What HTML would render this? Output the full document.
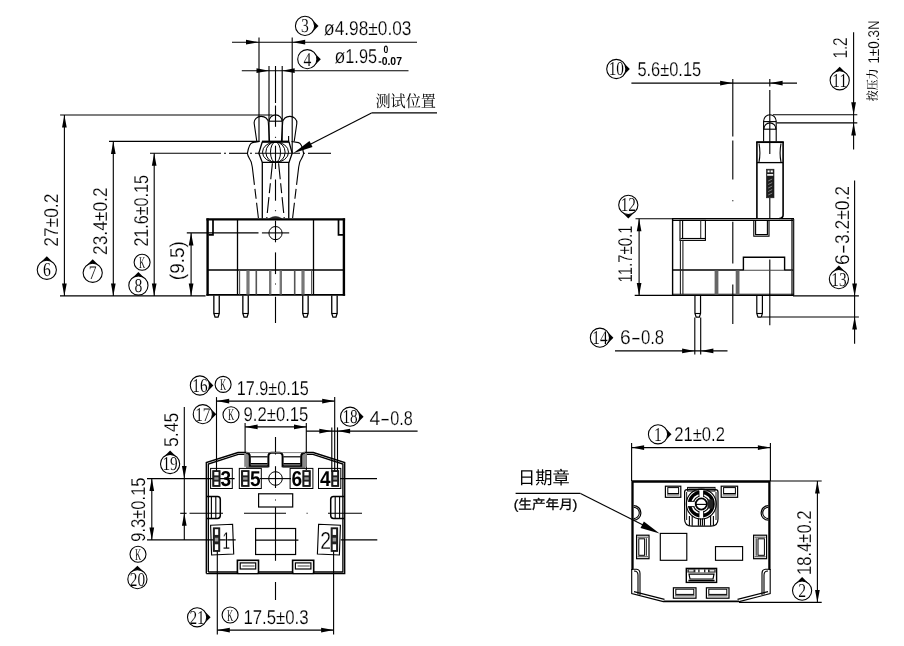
<!DOCTYPE html>
<html lang="zh">
<head>
<meta charset="utf-8">
<title>Drawing</title>
<style>
html,body{margin:0;padding:0;background:#fff;}
body{width:904px;height:646px;overflow:hidden;}
svg{display:block;}
text{white-space:pre;text-rendering:geometricPrecision;}
</style>
</head>
<body>
<svg width="904" height="646" viewBox="0 0 904 646" style="filter:grayscale(1)">
<rect x="0" y="0" width="904" height="646" fill="#fff"/>
<line x1="232" y1="42.2" x2="417" y2="42.2" stroke="#000" stroke-width="1.12"/>
<polygon points="259,42.2 246,44.55 246,39.85" fill="#000"/>
<polygon points="292.2,42.2 305.2,39.85 305.2,44.55" fill="#000"/>
<line x1="259" y1="37.6" x2="259" y2="141.5" stroke="#000" stroke-width="1.12"/>
<line x1="292.2" y1="37.6" x2="292.2" y2="153" stroke="#000" stroke-width="1.12"/>
<line x1="241.8" y1="70.7" x2="408.5" y2="70.7" stroke="#000" stroke-width="1.12"/>
<polygon points="269,70.7 256.5,73.05 256.5,68.35" fill="#000"/>
<polygon points="282.2,70.7 294.7,68.35 294.7,73.05" fill="#000"/>
<line x1="269" y1="66" x2="269" y2="121" stroke="#000" stroke-width="1.12"/>
<line x1="282.2" y1="66" x2="282.2" y2="121" stroke="#000" stroke-width="1.12"/>
<polygon points="318.5,25.9 311.83,32.65 311.83,19.15" fill="#000"/>
<circle cx="305" cy="25.9" r="9.6" fill="#fff" stroke="#000" stroke-width="1.08"/>
<text transform="translate(305 32.37) scale(0.8 1)" font-family='"Liberation Serif", serif' font-size="19.6" text-anchor="middle" fill="#000" stroke="#fff" stroke-width="0.1">3</text>
<text x="323.8" y="35.3" font-family='"Liberation Sans", sans-serif' font-size="20" fill="#000" stroke="#fff" stroke-width="0.2"><tspan textLength="10.9" lengthAdjust="spacingAndGlyphs">ø</tspan><tspan textLength="76.7" lengthAdjust="spacingAndGlyphs">4.98±0.03</tspan></text>
<polygon points="320.8,59.2 314.13,65.95 314.13,52.45" fill="#000"/>
<circle cx="307.3" cy="59.2" r="9.6" fill="#fff" stroke="#000" stroke-width="1.08"/>
<text transform="translate(307.3 65.67) scale(0.8 1)" font-family='"Liberation Serif", serif' font-size="19.6" text-anchor="middle" fill="#000" stroke="#fff" stroke-width="0.1">4</text>
<text x="334.4" y="62.5" font-family='"Liberation Sans", sans-serif' font-size="20" fill="#000" stroke="#fff" stroke-width="0.2"><tspan textLength="10.9" lengthAdjust="spacingAndGlyphs">ø</tspan><tspan textLength="31.7" lengthAdjust="spacingAndGlyphs">1.95</tspan></text>
<text x="383.6" y="53" font-family='"Liberation Sans", sans-serif' font-size="10.6" fill="#000" font-weight="bold" textLength="4.8" lengthAdjust="spacingAndGlyphs">0</text>
<text x="378.2" y="64.7" font-family='"Liberation Sans", sans-serif' font-size="11.6" fill="#000" font-weight="bold" textLength="23.8" lengthAdjust="spacingAndGlyphs">-0.07</text>
<line x1="275.5" y1="66" x2="275.5" y2="103" stroke="#000" stroke-width="1.12"/>
<line x1="275.5" y1="105.5" x2="275.5" y2="126.8" stroke="#000" stroke-width="1.12"/>
<line x1="275.5" y1="145.7" x2="275.5" y2="169" stroke="#000" stroke-width="1.12"/>
<line x1="275.5" y1="179.5" x2="275.5" y2="200.7" stroke="#000" stroke-width="1.12"/>
<line x1="275.5" y1="220.6" x2="275.5" y2="242.3" stroke="#000" stroke-width="1.12"/>
<line x1="275.5" y1="252.4" x2="275.5" y2="274.1" stroke="#000" stroke-width="1.12"/>
<line x1="275.5" y1="296.8" x2="275.5" y2="323" stroke="#000" stroke-width="1.12"/>
<line x1="275.5" y1="106.5" x2="275.5" y2="107.5" stroke="#000" stroke-width="1.12"/>
<line x1="275.5" y1="136.8" x2="275.5" y2="137.8" stroke="#000" stroke-width="1.12"/>
<line x1="275.5" y1="210.2" x2="275.5" y2="211.2" stroke="#000" stroke-width="1.12"/>
<line x1="275.5" y1="283.5" x2="275.5" y2="284.5" stroke="#000" stroke-width="1.12"/>
<text x="375.4" y="106.6" font-family='"Liberation Serif", "Noto Serif CJK SC", serif' font-size="16.4" fill="#000" textLength="60.6" lengthAdjust="spacingAndGlyphs">测试位置</text>
<line x1="371.5" y1="112.9" x2="437" y2="112.9" stroke="#000" stroke-width="1.12"/>
<line x1="371.5" y1="112.9" x2="305" y2="147" stroke="#000" stroke-width="1.12"/>
<polygon points="293.2,153.2 309.48,141.12 312.5,146.99" fill="#000"/>
<line x1="60.1" y1="115.05" x2="272.4" y2="115.05" stroke="#000" stroke-width="1.12"/>
<line x1="109" y1="141.4" x2="259.5" y2="141.4" stroke="#000" stroke-width="1.12"/>
<line x1="150" y1="153.3" x2="221" y2="153.3" stroke="#000" stroke-width="1.12"/>
<line x1="224" y1="153.3" x2="226" y2="153.3" stroke="#000" stroke-width="1.12"/>
<line x1="229" y1="153.3" x2="247" y2="153.3" stroke="#000" stroke-width="1.12"/>
<line x1="250" y1="153.3" x2="252" y2="153.3" stroke="#000" stroke-width="1.12"/>
<line x1="255" y1="153.3" x2="300" y2="153.3" stroke="#000" stroke-width="1.12"/>
<line x1="303" y1="153.3" x2="305" y2="153.3" stroke="#000" stroke-width="1.12"/>
<line x1="308" y1="153.3" x2="331" y2="153.3" stroke="#000" stroke-width="1.12"/>
<line x1="60" y1="295.9" x2="205.6" y2="295.9" stroke="#000" stroke-width="1.12"/>
<line x1="64.4" y1="115.05" x2="64.4" y2="295.9" stroke="#000" stroke-width="1.12"/>
<polygon points="64.4,115.05 66.75,127.55 62.05,127.55" fill="#000"/>
<polygon points="64.4,295.9 62.05,283.4 66.75,283.4" fill="#000"/>
<line x1="113.3" y1="141.4" x2="113.3" y2="295.9" stroke="#000" stroke-width="1.12"/>
<polygon points="113.3,141.4 115.65,153.9 110.95,153.9" fill="#000"/>
<polygon points="113.3,295.9 110.95,283.4 115.65,283.4" fill="#000"/>
<line x1="154.2" y1="153.3" x2="154.2" y2="295.9" stroke="#000" stroke-width="1.12"/>
<polygon points="154.2,153.3 156.55,165.8 151.85,165.8" fill="#000"/>
<polygon points="154.2,295.9 151.85,283.4 156.55,283.4" fill="#000"/>
<line x1="186.8" y1="232.9" x2="258.5" y2="232.9" stroke="#000" stroke-width="1.12"/>
<line x1="261.9" y1="232.9" x2="289.2" y2="232.9" stroke="#000" stroke-width="1.12"/>
<line x1="191.1" y1="232.9" x2="191.1" y2="295.9" stroke="#000" stroke-width="1.12"/>
<polygon points="191.1,232.9 193.45,245.4 188.75,245.4" fill="#000"/>
<polygon points="191.1,295.9 188.75,283.4 193.45,283.4" fill="#000"/>
<text transform="translate(57.7 246.8) rotate(-90)" font-family='"Liberation Sans", sans-serif' font-size="20" fill="#000" textLength="53.2" lengthAdjust="spacingAndGlyphs" stroke="#fff" stroke-width="0.2">27±0.2</text>
<text transform="translate(106.6 255) rotate(-90)" font-family='"Liberation Sans", sans-serif' font-size="20" fill="#000" textLength="67.6" lengthAdjust="spacingAndGlyphs" stroke="#fff" stroke-width="0.2">23.4±0.2</text>
<text transform="translate(148 246.6) rotate(-90)" font-family='"Liberation Sans", sans-serif' font-size="20" fill="#000" textLength="71.6" lengthAdjust="spacingAndGlyphs" stroke="#fff" stroke-width="0.2">21.6±0.15</text>
<text transform="translate(184.4 280.2) rotate(-90)" font-family='"Liberation Sans", sans-serif' font-size="20" fill="#000" textLength="39.1" lengthAdjust="spacingAndGlyphs" stroke="#fff" stroke-width="0.2">(9.5)</text>
<polygon points="46.8,256.3 53.55,262.97 40.05,262.97" fill="#000"/>
<circle cx="46.8" cy="269.8" r="9.6" fill="#fff" stroke="#000" stroke-width="1.08"/>
<text transform="translate(46.8 276.27) scale(0.8 1)" font-family='"Liberation Serif", serif' font-size="19.6" text-anchor="middle" fill="#000" stroke="#fff" stroke-width="0.1">6</text>
<polygon points="92.7,259.3 99.45,265.97 85.95,265.97" fill="#000"/>
<circle cx="92.7" cy="272.8" r="9.6" fill="#fff" stroke="#000" stroke-width="1.08"/>
<text transform="translate(92.7 279.27) scale(0.8 1)" font-family='"Liberation Serif", serif' font-size="19.6" text-anchor="middle" fill="#000" stroke="#fff" stroke-width="0.1">7</text>
<circle cx="142.1" cy="262.3" r="8" fill="#fff" stroke="#000" stroke-width="1.08"/>
<text transform="translate(142.1 267.91) scale(0.52 1)" font-family='"Liberation Serif", serif' font-size="16.5" text-anchor="middle" fill="#000" stroke="#fff" stroke-width="0.1">K</text>
<polygon points="138.4,272 145.15,278.67 131.65,278.67" fill="#000"/>
<circle cx="138.4" cy="285.5" r="9.6" fill="#fff" stroke="#000" stroke-width="1.08"/>
<text transform="translate(138.4 291.97) scale(0.8 1)" font-family='"Liberation Serif", serif' font-size="19.6" text-anchor="middle" fill="#000" stroke="#fff" stroke-width="0.1">8</text>
<line x1="207.6" y1="218.4" x2="207.6" y2="295.7" stroke="#000" stroke-width="2.4"/>
<line x1="343.9" y1="218.4" x2="343.9" y2="295.7" stroke="#000" stroke-width="2.4"/>
<line x1="206.4" y1="219.4" x2="345.1" y2="219.4" stroke="#000" stroke-width="2.2"/>
<line x1="206.4" y1="294.9" x2="345.1" y2="294.9" stroke="#000" stroke-width="1.9"/>
<line x1="207" y1="270.1" x2="345" y2="270.1" stroke="#000" stroke-width="1.5"/>
<line x1="237.5" y1="219" x2="237.5" y2="295" stroke="#000" stroke-width="1.3"/>
<line x1="313.5" y1="219" x2="313.5" y2="295" stroke="#000" stroke-width="1.3"/>
<path d="M213 220 L213 234.8 L208.5 234.8" fill="none" stroke="#000" stroke-width="1.7"/>
<path d="M338.5 220 L338.5 234.8 L343 234.8" fill="none" stroke="#000" stroke-width="1.7"/>
<line x1="239.6" y1="270.5" x2="239.6" y2="294.5" stroke="#555" stroke-width="1.12"/>
<line x1="248" y1="270.5" x2="248" y2="294.5" stroke="#777" stroke-width="3.2"/>
<line x1="256.3" y1="270.5" x2="256.3" y2="294.5" stroke="#555" stroke-width="1.6"/>
<line x1="270.2" y1="270.5" x2="270.2" y2="294.5" stroke="#777" stroke-width="2.4"/>
<line x1="280.8" y1="270.5" x2="280.8" y2="294.5" stroke="#777" stroke-width="2.4"/>
<line x1="294.7" y1="270.5" x2="294.7" y2="294.5" stroke="#555" stroke-width="1.6"/>
<line x1="303" y1="270.5" x2="303" y2="294.5" stroke="#777" stroke-width="3.2"/>
<line x1="311.6" y1="270.5" x2="311.6" y2="294.5" stroke="#555" stroke-width="1.12"/>
<path d="M213.85 295.5 L213.85 313.5 L215.05 317.2 L218.05 317.2 L219.25 313.5 L219.25 295.5" fill="none" stroke="#000" stroke-width="1.3"/>
<line x1="213.85" y1="313.5" x2="219.25" y2="313.5" stroke="#000" stroke-width="1.12"/>
<path d="M242.85 295.5 L242.85 313.5 L244.05 317.2 L247.05 317.2 L248.25 313.5 L248.25 295.5" fill="none" stroke="#000" stroke-width="1.3"/>
<line x1="242.85" y1="313.5" x2="248.25" y2="313.5" stroke="#000" stroke-width="1.12"/>
<path d="M302.75 295.5 L302.75 313.5 L303.95 317.2 L306.95 317.2 L308.15 313.5 L308.15 295.5" fill="none" stroke="#000" stroke-width="1.3"/>
<line x1="302.75" y1="313.5" x2="308.15" y2="313.5" stroke="#000" stroke-width="1.12"/>
<path d="M331.75 295.5 L331.75 313.5 L332.95 317.2 L335.95 317.2 L337.15 313.5 L337.15 295.5" fill="none" stroke="#000" stroke-width="1.3"/>
<line x1="331.75" y1="313.5" x2="337.15" y2="313.5" stroke="#000" stroke-width="1.12"/>
<circle cx="275.5" cy="233.1" r="6.6" fill="none" stroke="#000" stroke-width="1"/>
<line x1="262.3" y1="162.4" x2="262.3" y2="218.4" stroke="#000" stroke-width="1.3"/>
<line x1="288.75" y1="162.4" x2="288.75" y2="218.4" stroke="#000" stroke-width="1.3"/>
<path d="M262.3 141.8 L258.8 153.3 L262.3 162.4 L289 162.4 L292.2 153.3 L289 141.8" fill="none" stroke="#000" stroke-width="1.3"/>
<line x1="262" y1="141.7" x2="289.3" y2="141.7" stroke="#000" stroke-width="2.2"/>
<ellipse cx="275.5" cy="152.2" rx="13" ry="10.2" fill="none" stroke="#000" stroke-width="1"/>
<ellipse cx="275.5" cy="152.2" rx="9.6" ry="10.2" fill="none" stroke="#000" stroke-width="1"/>
<ellipse cx="275.5" cy="152.2" rx="5" ry="10.2" fill="none" stroke="#000" stroke-width="1"/>
<path d="M269 141.5 L269 121.5 A6.6 6.6 0 0 1 282.2 121.5 L282.2 141.5" fill="none" stroke="#000" stroke-width="1.12"/>
<line x1="269" y1="121.2" x2="282.2" y2="121.2" stroke="#000" stroke-width="1.12"/>
<path d="M256.8 141.5 L254.2 123.5 C253.2 114.5 268.6 113.5 268.4 123.5 L269.6 141.5" fill="none" stroke="#000" stroke-width="1.12"/>
<path d="M294.2 141.5 L296.8 123.5 C297.8 114.5 282.4 113.5 282.6 123.5 L281.4 141.5" fill="none" stroke="#000" stroke-width="1.12"/>
<line x1="288.6" y1="136" x2="288.6" y2="141.5" stroke="#000" stroke-width="1.12"/>
<path d="M259.5 141.5 L252.5 142.6 C250.5 143 248.5 147 247.4 153.3 C247.4 156 250 159 251.2 162 L252.3 167" fill="none" stroke="#000" stroke-width="1.12"/>
<path d="M291.5 141.5 L298.5 142.6 C300.5 143 302.5 147 303.6 153.3 C303.6 156 301 159 299.8 162 L298.7 167" fill="none" stroke="#000" stroke-width="1.12"/>
<line x1="252.3" y1="167" x2="258.4" y2="218" stroke="#000" stroke-width="1.12" stroke-dasharray="18 4 10 4"/>
<line x1="298.7" y1="167" x2="292.6" y2="218" stroke="#000" stroke-width="1.12" stroke-dasharray="18 4 10 4"/>
<line x1="272.4" y1="163.3" x2="266.8" y2="218" stroke="#000" stroke-width="1.12" stroke-dasharray="16 4 10 4"/>
<line x1="278.6" y1="163.3" x2="284.2" y2="218" stroke="#000" stroke-width="1.12" stroke-dasharray="16 4 10 4"/>
<path d="M269.5 218.4 Q275.5 214.6 281.5 218.4 Z" fill="#333" stroke="#000" stroke-width="0.5"/>
<polygon points="629.8,69 623.13,75.75 623.13,62.25" fill="#000"/>
<circle cx="616.3" cy="69" r="9.6" fill="#fff" stroke="#000" stroke-width="1.08"/>
<text transform="translate(616.3 75.47) scale(0.78 1)" font-family='"Liberation Serif", serif' font-size="19.6" text-anchor="middle" fill="#000" stroke="#fff" stroke-width="0.1">10</text>
<text x="637.4" y="76.4" font-family='"Liberation Sans", sans-serif' font-size="20" fill="#000" textLength="63.8" lengthAdjust="spacingAndGlyphs" stroke="#fff" stroke-width="0.2">5.6±0.15</text>
<line x1="631.4" y1="83.1" x2="797" y2="83.1" stroke="#000" stroke-width="1.12"/>
<polygon points="732.6,83.1 720.1,85.45 720.1,80.75" fill="#000"/>
<polygon points="770.1,83.1 782.6,80.75 782.6,85.45" fill="#000"/>
<line x1="732.8" y1="78.9" x2="732.8" y2="136.6" stroke="#000" stroke-width="1.12"/>
<line x1="732.8" y1="140.4" x2="732.8" y2="179.4" stroke="#000" stroke-width="1.12"/>
<line x1="732.8" y1="221.7" x2="732.8" y2="263.5" stroke="#000" stroke-width="1.12"/>
<line x1="732.8" y1="284.5" x2="732.8" y2="324" stroke="#000" stroke-width="1.12"/>
<line x1="732.8" y1="200.2" x2="732.8" y2="201.2" stroke="#000" stroke-width="1.12"/>
<line x1="769.8" y1="78.9" x2="769.8" y2="86.5" stroke="#000" stroke-width="1.12"/>
<line x1="769.8" y1="90" x2="769.8" y2="154" stroke="#000" stroke-width="1.12"/>
<line x1="769.8" y1="198" x2="769.8" y2="218" stroke="#000" stroke-width="1.12"/>
<line x1="769.8" y1="259.6" x2="769.8" y2="325.2" stroke="#000" stroke-width="1.12"/>
<line x1="773" y1="114.8" x2="857.3" y2="114.8" stroke="#000" stroke-width="1.12"/>
<line x1="776.9" y1="122.9" x2="857.3" y2="122.9" stroke="#000" stroke-width="1.12"/>
<line x1="853.6" y1="32.3" x2="853.6" y2="149.4" stroke="#000" stroke-width="1.12"/>
<polygon points="853.6,114.8 851.25,102.3 855.95,102.3" fill="#000"/>
<polygon points="853.6,122.9 855.95,135.4 851.25,135.4" fill="#000"/>
<text transform="translate(846.6 58.6) rotate(-90)" font-family='"Liberation Sans", sans-serif' font-size="20" fill="#000" textLength="21.2" lengthAdjust="spacingAndGlyphs" stroke="#fff" stroke-width="0.2">1.2</text>
<polygon points="839.7,66.8 846.45,73.47 832.95,73.47" fill="#000"/>
<circle cx="839.7" cy="80.3" r="9.6" fill="#fff" stroke="#000" stroke-width="1.08"/>
<text transform="translate(839.7 86.77) scale(0.78 1)" font-family='"Liberation Serif", serif' font-size="19.6" text-anchor="middle" fill="#000" stroke="#fff" stroke-width="0.1">11</text>
<text transform="translate(877.4 101.2) rotate(-90)" fill="#000"><tspan x="0" y="0" font-family='"Liberation Serif", "Noto Serif CJK SC", serif' font-size="12.8" font-weight="500" textLength="32.6" lengthAdjust="spacingAndGlyphs">按压力</tspan> <tspan x="37.6" y="1.2" font-family='"Liberation Sans", sans-serif' font-size="15.6" textLength="43.2" lengthAdjust="spacingAndGlyphs" stroke="#fff" stroke-width="0.1">1±0.3N</tspan></text>
<line x1="793" y1="295.9" x2="858.9" y2="295.9" stroke="#000" stroke-width="1.12"/>
<line x1="762" y1="317" x2="858.9" y2="317" stroke="#000" stroke-width="1.12"/>
<line x1="854.6" y1="180.4" x2="854.6" y2="343.8" stroke="#000" stroke-width="1.12"/>
<polygon points="854.6,295.9 852.25,283.4 856.95,283.4" fill="#000"/>
<polygon points="854.6,317 856.95,329.5 852.25,329.5" fill="#000"/>
<text transform="translate(848.8 265) rotate(-90)" font-family='"Liberation Sans", sans-serif' font-size="20" fill="#000" stroke="#fff" stroke-width="0.2"><tspan textLength="10.7" lengthAdjust="spacingAndGlyphs">6</tspan><tspan textLength="10.2" lengthAdjust="spacingAndGlyphs">-</tspan><tspan textLength="58.1" lengthAdjust="spacingAndGlyphs">3.2±0.2</tspan></text>
<polygon points="838.9,265.6 845.65,272.27 832.15,272.27" fill="#000"/>
<circle cx="838.9" cy="279.1" r="9.6" fill="#fff" stroke="#000" stroke-width="1.08"/>
<text transform="translate(838.9 285.57) scale(0.78 1)" font-family='"Liberation Serif", serif' font-size="19.6" text-anchor="middle" fill="#000" stroke="#fff" stroke-width="0.1">13</text>
<line x1="635.5" y1="218.8" x2="672.5" y2="218.8" stroke="#000" stroke-width="1.12"/>
<line x1="634.7" y1="295.4" x2="672.5" y2="295.4" stroke="#000" stroke-width="1.12"/>
<line x1="639.1" y1="218.8" x2="639.1" y2="295.4" stroke="#000" stroke-width="1.12"/>
<polygon points="639.1,218.8 641.45,231.3 636.75,231.3" fill="#000"/>
<polygon points="639.1,295.4 636.75,282.9 641.45,282.9" fill="#000"/>
<text transform="translate(632 282.4) rotate(-90)" font-family='"Liberation Sans", sans-serif' font-size="20" fill="#000" textLength="57" lengthAdjust="spacingAndGlyphs" stroke="#fff" stroke-width="0.2">11.7±0.1</text>
<polygon points="628.3,218.4 621.55,211.73 635.05,211.73" fill="#000"/>
<circle cx="628.3" cy="204.9" r="9.6" fill="#fff" stroke="#000" stroke-width="1.08"/>
<text transform="translate(628.3 211.37) scale(0.78 1)" font-family='"Liberation Serif", serif' font-size="19.6" text-anchor="middle" fill="#000" stroke="#fff" stroke-width="0.1">12</text>
<polygon points="613.4,337.7 606.73,344.45 606.73,330.95" fill="#000"/>
<circle cx="599.9" cy="337.7" r="9.6" fill="#fff" stroke="#000" stroke-width="1.08"/>
<text transform="translate(599.9 344.17) scale(0.78 1)" font-family='"Liberation Serif", serif' font-size="19.6" text-anchor="middle" fill="#000" stroke="#fff" stroke-width="0.1">14</text>
<text x="620" y="344" font-family='"Liberation Sans", sans-serif' font-size="20" fill="#000" stroke="#fff" stroke-width="0.2"><tspan textLength="10.7" lengthAdjust="spacingAndGlyphs">6</tspan><tspan textLength="10.2" lengthAdjust="spacingAndGlyphs">-</tspan><tspan textLength="23.3" lengthAdjust="spacingAndGlyphs">0.8</tspan></text>
<line x1="615" y1="350.9" x2="727.5" y2="350.9" stroke="#000" stroke-width="1.12"/>
<polygon points="694.6,350.9 682.1,353.25 682.1,348.55" fill="#000"/>
<polygon points="700.9,350.9 713.4,348.55 713.4,353.25" fill="#000"/>
<line x1="694.8" y1="317.4" x2="694.8" y2="354.6" stroke="#000" stroke-width="1.12"/>
<line x1="700.7" y1="317.4" x2="700.7" y2="354.6" stroke="#000" stroke-width="1.12"/>
<line x1="672.6" y1="219" x2="672.6" y2="295.6" stroke="#000" stroke-width="1.4"/>
<line x1="792" y1="219" x2="792" y2="295.6" stroke="#000" stroke-width="1.2"/>
<line x1="793.7" y1="219" x2="793.7" y2="295.2" stroke="#000" stroke-width="1.12"/>
<line x1="672" y1="218.7" x2="794" y2="218.7" stroke="#000" stroke-width="1.2"/>
<line x1="672.5" y1="220.4" x2="793" y2="220.4" stroke="#000" stroke-width="1.2"/>
<line x1="672" y1="294.2" x2="793.8" y2="294.2" stroke="#000" stroke-width="1.1"/>
<line x1="672" y1="295.5" x2="793.8" y2="295.5" stroke="#000" stroke-width="1.2"/>
<line x1="672.5" y1="270.1" x2="743.4" y2="270.1" stroke="#000" stroke-width="1.5"/>
<line x1="784.6" y1="270.1" x2="792.8" y2="270.1" stroke="#000" stroke-width="1.5"/>
<line x1="737" y1="270.3" x2="792" y2="270.3" stroke="#444" stroke-width="1.12"/>
<rect x="680" y="220.4" width="25.4" height="20" fill="none" stroke="#000" stroke-width="1.1"/>
<line x1="682.6" y1="220.4" x2="682.6" y2="239" stroke="#000" stroke-width="1.12"/>
<line x1="700.7" y1="220.4" x2="700.7" y2="239" stroke="#333" stroke-width="1.12"/>
<line x1="680.5" y1="238.5" x2="705" y2="238.5" stroke="#000" stroke-width="1.12"/>
<line x1="680.4" y1="240" x2="680.4" y2="294.5" stroke="#222" stroke-width="1.12"/>
<line x1="682.9" y1="240" x2="682.9" y2="294.5" stroke="#222" stroke-width="1.12"/>
<path d="M753.8 220 L753.8 236.2 L769 236.2 L769 220" fill="none" stroke="#000" stroke-width="1.12"/>
<path d="M755.6 220 L755.6 234.6 L767.4 234.6 L767.4 220" fill="none" stroke="#000" stroke-width="1.12"/>
<path d="M743.4 270.2 L743.4 257.3 L784.6 257.3 L784.6 270.2" fill="none" stroke="#000" stroke-width="1.4"/>
<line x1="716.5" y1="270.5" x2="716.5" y2="294.5" stroke="#666" stroke-width="3.8"/>
<line x1="737.6" y1="270.5" x2="737.6" y2="294.5" stroke="#666" stroke-width="3.8"/>
<path d="M694.95 295.5 L694.95 313.5 L696.15 317.2 L699.35 317.2 L700.55 313.5 L700.55 295.5" fill="none" stroke="#000" stroke-width="1.2"/>
<line x1="694.95" y1="313.5" x2="700.55" y2="313.5" stroke="#000" stroke-width="1.12"/>
<path d="M756.8 295.5 L756.8 313.5 L758 317.2 L761.2 317.2 L762.4 313.5 L762.4 295.5" fill="none" stroke="#000" stroke-width="1.2"/>
<line x1="756.8" y1="313.5" x2="762.4" y2="313.5" stroke="#000" stroke-width="1.12"/>
<path d="M756.9 218.6 L756.9 142 M783.1 142 L783.1 215 Q783.1 218.2 779.5 218.4" fill="none" stroke="#000" stroke-width="1.6"/>
<line x1="756.2" y1="142.1" x2="783.8" y2="142.1" stroke="#000" stroke-width="1.9"/>
<line x1="757" y1="162.6" x2="783" y2="162.6" stroke="#000" stroke-width="1.3"/>
<path d="M759 143.5 Q760.8 153 759 162" fill="none" stroke="#000" stroke-width="1.12"/>
<path d="M781 143.5 Q779.2 153 781 162" fill="none" stroke="#000" stroke-width="1.12"/>
<path d="M763.6 141.5 L763.6 121.2 A6.3 6.4 0 0 1 776.2 121.2 L776.2 141.5" fill="none" stroke="#000" stroke-width="1.1"/>
<line x1="763.6" y1="121.6" x2="776.2" y2="121.6" stroke="#000" stroke-width="1.12"/>
<path d="M763.9 129.2 A6 6.3 0 0 1 775.9 129.2" fill="none" stroke="#000" stroke-width="1.1"/>
<line x1="763.6" y1="129.2" x2="776.2" y2="129.2" stroke="#000" stroke-width="1.12"/>
<rect x="766.4" y="169.2" width="7.6" height="28.6" fill="#1c1c1c" stroke="#1c1c1c" stroke-width="0.6"/>
<rect x="767.6" y="170.4" width="2" height="2" fill="#fff" stroke="none" stroke-width="0"/>
<rect x="770.6" y="170.4" width="2.2" height="2" fill="#fff" stroke="none" stroke-width="0"/>
<rect x="767.2" y="174" width="6" height="1.8" fill="#eee" stroke="none" stroke-width="0"/>
<line x1="768.2" y1="181" x2="772.2" y2="179" stroke="#aaa" stroke-width="0.7"/>
<line x1="768.2" y1="184.5" x2="772.2" y2="182.5" stroke="#aaa" stroke-width="0.7"/>
<line x1="768.2" y1="188" x2="772.2" y2="186" stroke="#aaa" stroke-width="0.7"/>
<line x1="768.2" y1="191.5" x2="772.2" y2="189.5" stroke="#aaa" stroke-width="0.7"/>
<line x1="768.2" y1="195" x2="772.2" y2="193" stroke="#aaa" stroke-width="0.7"/>
<polygon points="213.4,385.5 206.73,392.25 206.73,378.75" fill="#000"/>
<circle cx="199.9" cy="385.5" r="9.6" fill="#fff" stroke="#000" stroke-width="1.08"/>
<text transform="translate(199.9 391.97) scale(0.78 1)" font-family='"Liberation Serif", serif' font-size="19.6" text-anchor="middle" fill="#000" stroke="#fff" stroke-width="0.1">16</text>
<circle cx="223.1" cy="384.4" r="8" fill="#fff" stroke="#000" stroke-width="1.08"/>
<text transform="translate(223.1 390.01) scale(0.52 1)" font-family='"Liberation Serif", serif' font-size="16.5" text-anchor="middle" fill="#000" stroke="#fff" stroke-width="0.1">K</text>
<text x="236.8" y="394.8" font-family='"Liberation Sans", sans-serif' font-size="20" fill="#000" textLength="72" lengthAdjust="spacingAndGlyphs" stroke="#fff" stroke-width="0.2">17.9±0.15</text>
<line x1="216.7" y1="401.1" x2="334.7" y2="401.1" stroke="#000" stroke-width="1.12"/>
<polygon points="216.7,401.1 229.2,398.75 229.2,403.45" fill="#000"/>
<polygon points="334.7,401.1 322.2,403.45 322.2,398.75" fill="#000"/>
<line x1="216.5" y1="397.1" x2="216.5" y2="472.3" stroke="#000" stroke-width="1.12"/>
<line x1="334.7" y1="397.1" x2="334.7" y2="472" stroke="#000" stroke-width="1.12"/>
<polygon points="216.3,414.2 209.63,420.95 209.63,407.45" fill="#000"/>
<circle cx="202.8" cy="414.2" r="9.6" fill="#fff" stroke="#000" stroke-width="1.08"/>
<text transform="translate(202.8 420.67) scale(0.78 1)" font-family='"Liberation Serif", serif' font-size="19.6" text-anchor="middle" fill="#000" stroke="#fff" stroke-width="0.1">17</text>
<circle cx="231" cy="414.7" r="8" fill="#fff" stroke="#000" stroke-width="1.08"/>
<text transform="translate(231 420.31) scale(0.52 1)" font-family='"Liberation Serif", serif' font-size="16.5" text-anchor="middle" fill="#000" stroke="#fff" stroke-width="0.1">K</text>
<text x="243.6" y="420.7" font-family='"Liberation Sans", sans-serif' font-size="20" fill="#000" textLength="64.8" lengthAdjust="spacingAndGlyphs" stroke="#fff" stroke-width="0.2">9.2±0.15</text>
<line x1="245.1" y1="426.9" x2="306.5" y2="426.9" stroke="#000" stroke-width="1.12"/>
<polygon points="245.1,426.9 257.6,424.55 257.6,429.25" fill="#000"/>
<polygon points="306.5,426.9 294,429.25 294,424.55" fill="#000"/>
<line x1="245.1" y1="423.1" x2="245.1" y2="453" stroke="#000" stroke-width="1.12"/>
<line x1="306.3" y1="423.1" x2="306.3" y2="470" stroke="#000" stroke-width="1.12"/>
<polygon points="363.6,416.7 356.93,423.45 356.93,409.95" fill="#000"/>
<circle cx="350.1" cy="416.7" r="9.6" fill="#fff" stroke="#000" stroke-width="1.08"/>
<text transform="translate(350.1 423.17) scale(0.78 1)" font-family='"Liberation Serif", serif' font-size="19.6" text-anchor="middle" fill="#000" stroke="#fff" stroke-width="0.1">18</text>
<text x="369.4" y="425.2" font-family='"Liberation Sans", sans-serif' font-size="20" fill="#000" stroke="#fff" stroke-width="0.2"><tspan textLength="10.7" lengthAdjust="spacingAndGlyphs">4</tspan><tspan textLength="10.2" lengthAdjust="spacingAndGlyphs">-</tspan><tspan textLength="22.5" lengthAdjust="spacingAndGlyphs">0.8</tspan></text>
<line x1="306.3" y1="431.1" x2="417.6" y2="431.1" stroke="#000" stroke-width="1.12"/>
<polygon points="331.8,431.1 319.3,433.45 319.3,428.75" fill="#000"/>
<polygon points="337.6,431.1 350.1,428.75 350.1,433.45" fill="#000"/>
<line x1="331.8" y1="427.4" x2="331.8" y2="472" stroke="#000" stroke-width="1.12"/>
<line x1="337.5" y1="427.4" x2="337.5" y2="472" stroke="#000" stroke-width="1.12"/>
<line x1="147" y1="478.6" x2="234.6" y2="478.6" stroke="#000" stroke-width="1.12"/>
<line x1="259.7" y1="478.6" x2="291" y2="478.6" stroke="#000" stroke-width="1.12"/>
<line x1="340" y1="478.6" x2="377" y2="478.6" stroke="#000" stroke-width="1.12"/>
<line x1="147" y1="539.9" x2="235.7" y2="539.9" stroke="#000" stroke-width="1.12"/>
<line x1="340.8" y1="539.9" x2="377.3" y2="539.9" stroke="#000" stroke-width="1.12"/>
<line x1="184.3" y1="407" x2="184.3" y2="539.9" stroke="#000" stroke-width="1.12"/>
<polygon points="184.3,478.6 181.95,466.1 186.65,466.1" fill="#000"/>
<polygon points="184.3,513.3 186.65,525.8 181.95,525.8" fill="#000"/>
<line x1="180.2" y1="513.3" x2="186.6" y2="513.3" stroke="#000" stroke-width="1.12"/>
<line x1="189.5" y1="513.3" x2="223" y2="513.3" stroke="#000" stroke-width="1.12"/>
<line x1="244" y1="513.3" x2="286" y2="513.3" stroke="#000" stroke-width="1.12"/>
<line x1="306.6" y1="513.3" x2="307.6" y2="513.3" stroke="#000" stroke-width="1.12"/>
<line x1="328" y1="513.3" x2="362" y2="513.3" stroke="#000" stroke-width="1.12"/>
<line x1="151.8" y1="478.6" x2="151.8" y2="539.9" stroke="#000" stroke-width="1.12"/>
<polygon points="151.8,478.6 154.15,491.1 149.45,491.1" fill="#000"/>
<polygon points="151.8,539.9 149.45,527.4 154.15,527.4" fill="#000"/>
<text transform="translate(177.8 447) rotate(-90)" font-family='"Liberation Sans", sans-serif' font-size="20" fill="#000" textLength="34.4" lengthAdjust="spacingAndGlyphs" stroke="#fff" stroke-width="0.2">5.45</text>
<polygon points="170.1,450.5 176.85,457.17 163.35,457.17" fill="#000"/>
<circle cx="170.1" cy="464" r="9.6" fill="#fff" stroke="#000" stroke-width="1.08"/>
<text transform="translate(170.1 470.47) scale(0.78 1)" font-family='"Liberation Serif", serif' font-size="19.6" text-anchor="middle" fill="#000" stroke="#fff" stroke-width="0.1">19</text>
<text transform="translate(145 541.8) rotate(-90)" font-family='"Liberation Sans", sans-serif' font-size="20" fill="#000" textLength="64.4" lengthAdjust="spacingAndGlyphs" stroke="#fff" stroke-width="0.2">9.3±0.15</text>
<circle cx="138" cy="554.3" r="8" fill="#fff" stroke="#000" stroke-width="1.08"/>
<text transform="translate(138 559.91) scale(0.52 1)" font-family='"Liberation Serif", serif' font-size="16.5" text-anchor="middle" fill="#000" stroke="#fff" stroke-width="0.1">K</text>
<polygon points="137.4,565.7 144.15,572.37 130.65,572.37" fill="#000"/>
<circle cx="137.4" cy="579.2" r="9.6" fill="#fff" stroke="#000" stroke-width="1.08"/>
<text transform="translate(137.4 585.67) scale(0.78 1)" font-family='"Liberation Serif", serif' font-size="19.6" text-anchor="middle" fill="#000" stroke="#fff" stroke-width="0.1">20</text>
<polygon points="210.6,617.3 203.93,624.05 203.93,610.55" fill="#000"/>
<circle cx="197.1" cy="617.3" r="9.6" fill="#fff" stroke="#000" stroke-width="1.08"/>
<text transform="translate(197.1 623.77) scale(0.78 1)" font-family='"Liberation Serif", serif' font-size="19.6" text-anchor="middle" fill="#000" stroke="#fff" stroke-width="0.1">21</text>
<circle cx="230.1" cy="615" r="8" fill="#fff" stroke="#000" stroke-width="1.08"/>
<text transform="translate(230.1 620.61) scale(0.52 1)" font-family='"Liberation Serif", serif' font-size="16.5" text-anchor="middle" fill="#000" stroke="#fff" stroke-width="0.1">K</text>
<text x="243.4" y="624.2" font-family='"Liberation Sans", sans-serif' font-size="20" fill="#000" textLength="65.2" lengthAdjust="spacingAndGlyphs" stroke="#fff" stroke-width="0.2">17.5±0.3</text>
<line x1="217.3" y1="630.1" x2="333.6" y2="630.1" stroke="#000" stroke-width="1.12"/>
<polygon points="217.3,630.1 229.8,627.75 229.8,632.45" fill="#000"/>
<polygon points="333.6,630.1 321.1,632.45 321.1,627.75" fill="#000"/>
<line x1="217.3" y1="549" x2="217.3" y2="634.5" stroke="#000" stroke-width="1.12"/>
<line x1="333.6" y1="549" x2="333.6" y2="634.5" stroke="#000" stroke-width="1.12"/>
<line x1="275.5" y1="437" x2="275.5" y2="454.5" stroke="#000" stroke-width="1.12"/>
<line x1="275.5" y1="466.2" x2="275.5" y2="488" stroke="#000" stroke-width="1.12"/>
<line x1="275.5" y1="507.2" x2="275.5" y2="560.8" stroke="#000" stroke-width="1.12"/>
<line x1="275.5" y1="582" x2="275.5" y2="600" stroke="#000" stroke-width="1.12"/>
<line x1="275.5" y1="499.5" x2="275.5" y2="500.5" stroke="#000" stroke-width="1.12"/>
<path d="M206.3 573.6 L206.3 462.6 L238 452.5 L246 452.5" fill="none" stroke="#000" stroke-width="1.35"/>
<path d="M305 452.5 L313.3 452.5 L344.7 462.6 L344.7 573.6 L206.3 573.6" fill="none" stroke="#000" stroke-width="1.35"/>
<path d="M208.3 572 L208.3 464 L238.3 454.3 L246 454.3" fill="none" stroke="#000" stroke-width="1.35"/>
<path d="M305 454.3 L313 454.3 L342.9 464 L342.9 572 L208.3 572" fill="none" stroke="#000" stroke-width="1.35"/>
<rect x="244.2" y="453" width="5.4" height="13.8" fill="#8a8a8a" stroke="none" stroke-width="0"/>
<rect x="301.4" y="453" width="5.4" height="13.8" fill="#8a8a8a" stroke="none" stroke-width="0"/>
<path d="M246 452.8 Q249.8 452.8 249.8 456.5 L249.8 466.2 L268.4 466.2 L268.4 456.5 Q268.4 452.8 271.5 452.8 L279.5 452.8 Q282.6 452.8 282.6 456.5 L282.6 466.2 L301.2 466.2 L301.2 456.5 Q301.2 452.8 305 452.8" fill="none" stroke="#000" stroke-width="2"/>
<line x1="250.6" y1="456.8" x2="267.6" y2="456.8" stroke="#000" stroke-width="1.2"/>
<line x1="250.6" y1="463.8" x2="267.6" y2="463.8" stroke="#000" stroke-width="1.6"/>
<line x1="283.4" y1="456.8" x2="300.4" y2="456.8" stroke="#000" stroke-width="1.2"/>
<line x1="283.4" y1="463.8" x2="300.4" y2="463.8" stroke="#000" stroke-width="1.6"/>
<line x1="246" y1="452.6" x2="305" y2="452.6" stroke="#777" stroke-width="0.9"/>
<line x1="246" y1="467.2" x2="268.5" y2="467.2" stroke="#555" stroke-width="1.12"/>
<line x1="282.5" y1="467.2" x2="305" y2="467.2" stroke="#555" stroke-width="1.12"/>
<rect x="210.6" y="468.4" width="21.7" height="20.1" fill="none" stroke="#000" stroke-width="1"/>
<rect x="212.8" y="470.7" width="7.2" height="15.6" fill="#222" stroke="#111" stroke-width="1"/>
<rect x="214.3" y="472" width="4.2" height="3.38" fill="#fff" stroke="none" stroke-width="0"/>
<rect x="214.3" y="477.25" width="4.2" height="2.5" fill="#999" stroke="none" stroke-width="0"/>
<rect x="214.3" y="481.62" width="4.2" height="3.38" fill="#fff" stroke="none" stroke-width="0"/>
<text x="220.5" y="486.2" font-family='"Liberation Sans", sans-serif' font-size="21.5" fill="#000" font-weight="bold" textLength="10.6" lengthAdjust="spacingAndGlyphs">3</text>
<rect x="239.3" y="468.4" width="22" height="20.1" fill="none" stroke="#000" stroke-width="1"/>
<rect x="241.6" y="470.7" width="7.4" height="15.6" fill="#222" stroke="#111" stroke-width="1"/>
<rect x="243.1" y="472" width="4.4" height="3.38" fill="#fff" stroke="none" stroke-width="0"/>
<rect x="243.1" y="477.25" width="4.4" height="2.5" fill="#999" stroke="none" stroke-width="0"/>
<rect x="243.1" y="481.62" width="4.4" height="3.38" fill="#fff" stroke="none" stroke-width="0"/>
<text x="249.9" y="486.2" font-family='"Liberation Sans", sans-serif' font-size="21.5" fill="#000" font-weight="bold" textLength="10.6" lengthAdjust="spacingAndGlyphs">5</text>
<rect x="290.1" y="468.4" width="22.8" height="20.1" fill="none" stroke="#000" stroke-width="1"/>
<rect x="302.9" y="470.7" width="7.3" height="15.6" fill="#222" stroke="#111" stroke-width="1"/>
<rect x="304.4" y="472" width="4.3" height="3.38" fill="#fff" stroke="none" stroke-width="0"/>
<rect x="304.4" y="477.25" width="4.3" height="2.5" fill="#999" stroke="none" stroke-width="0"/>
<rect x="304.4" y="481.62" width="4.3" height="3.38" fill="#fff" stroke="none" stroke-width="0"/>
<text x="291.5" y="486.2" font-family='"Liberation Sans", sans-serif' font-size="21.5" fill="#000" font-weight="bold" textLength="10.6" lengthAdjust="spacingAndGlyphs">6</text>
<rect x="318.5" y="468.4" width="22.3" height="20.1" fill="none" stroke="#000" stroke-width="1"/>
<rect x="331.8" y="470.7" width="6.8" height="15.6" fill="#222" stroke="#111" stroke-width="1"/>
<rect x="333.3" y="472" width="3.8" height="3.38" fill="#fff" stroke="none" stroke-width="0"/>
<rect x="333.3" y="477.25" width="3.8" height="2.5" fill="#999" stroke="none" stroke-width="0"/>
<rect x="333.3" y="481.62" width="3.8" height="3.38" fill="#fff" stroke="none" stroke-width="0"/>
<text x="319.9" y="486.2" font-family='"Liberation Sans", sans-serif' font-size="21.5" fill="#000" font-weight="bold" textLength="10.6" lengthAdjust="spacingAndGlyphs">4</text>
<circle cx="275.5" cy="478.5" r="6.8" fill="none" stroke="#000" stroke-width="1"/>
<rect x="258.6" y="493.8" width="34.1" height="13.2" fill="none" stroke="#000" stroke-width="1.2"/>
<rect x="255.6" y="528.5" width="40" height="26" fill="none" stroke="#000" stroke-width="1.2"/>
<line x1="255.5" y1="540.1" x2="298.4" y2="540.1" stroke="#000" stroke-width="1.12"/>
<path d="M207 496.6 L217.5 496.6 Q220.3 496.6 220.3 499.5 L220.3 515.5 Q220.3 518.4 217.5 518.4 L207 518.4" fill="none" stroke="#000" stroke-width="1.5"/>
<line x1="211.4" y1="497" x2="211.4" y2="518" stroke="#000" stroke-width="1.12"/>
<line x1="215.8" y1="497" x2="215.8" y2="518" stroke="#000" stroke-width="1.12"/>
<path d="M344 496.6 L333.5 496.6 Q330.7 496.6 330.7 499.5 L330.7 515.5 Q330.7 518.4 333.5 518.4 L344 518.4" fill="none" stroke="#000" stroke-width="1.5"/>
<line x1="339.6" y1="497" x2="339.6" y2="518" stroke="#000" stroke-width="1.12"/>
<line x1="335.2" y1="497" x2="335.2" y2="518" stroke="#000" stroke-width="1.12"/>
<path d="M210.6 525.3 L232.6 524.3 L233.7 554 L211.6 555 Z" fill="none" stroke="#000" stroke-width="1.12"/>
<rect x="213.4" y="527.9" width="6.3" height="23.4" fill="#222" stroke="#111" stroke-width="1"/>
<rect x="214.9" y="529.2" width="3.3" height="5.72" fill="#fff" stroke="none" stroke-width="0"/>
<rect x="214.9" y="537.73" width="3.3" height="3.74" fill="#999" stroke="none" stroke-width="0"/>
<rect x="214.9" y="544.28" width="3.3" height="5.72" fill="#fff" stroke="none" stroke-width="0"/>
<text x="222.6" y="548.6" font-family='"Liberation Sans", sans-serif' font-size="24.5" fill="#000" textLength="7.5" lengthAdjust="spacingAndGlyphs" stroke="#fff" stroke-width="0.3">1</text>
<path d="M318.6 524.3 L340.4 525.3 L339.4 555 L317.4 554 Z" fill="none" stroke="#000" stroke-width="1.12"/>
<rect x="331.2" y="527.9" width="6.4" height="23.4" fill="#222" stroke="#111" stroke-width="1"/>
<rect x="332.7" y="529.2" width="3.4" height="5.72" fill="#fff" stroke="none" stroke-width="0"/>
<rect x="332.7" y="537.73" width="3.4" height="3.74" fill="#999" stroke="none" stroke-width="0"/>
<rect x="332.7" y="544.28" width="3.4" height="5.72" fill="#fff" stroke="none" stroke-width="0"/>
<text x="320.2" y="548.6" font-family='"Liberation Sans", sans-serif' font-size="24.5" fill="#000" textLength="10.8" lengthAdjust="spacingAndGlyphs" stroke="#fff" stroke-width="0.3">2</text>
<rect x="237.4" y="560.3" width="21.1" height="12.7" fill="#fff" stroke="#000" stroke-width="1.6"/>
<rect x="240.2" y="562.9" width="15.5" height="6.1" fill="none" stroke="#000" stroke-width="1.2"/>
<line x1="242.4" y1="566" x2="254.5" y2="566" stroke="#555" stroke-width="1.12"/>
<line x1="238.4" y1="572.8" x2="257.5" y2="572.8" stroke="#fff" stroke-width="1.6"/>
<line x1="237.4" y1="573.6" x2="258.5" y2="573.6" stroke="#000" stroke-width="1.12"/>
<rect x="292.6" y="560.3" width="21.1" height="12.7" fill="#fff" stroke="#000" stroke-width="1.6"/>
<rect x="295.4" y="562.9" width="15.5" height="6.1" fill="none" stroke="#000" stroke-width="1.2"/>
<line x1="297.6" y1="566" x2="309.7" y2="566" stroke="#555" stroke-width="1.12"/>
<line x1="293.6" y1="572.8" x2="312.7" y2="572.8" stroke="#fff" stroke-width="1.6"/>
<line x1="292.6" y1="573.6" x2="313.7" y2="573.6" stroke="#000" stroke-width="1.12"/>
<text x="518" y="483.9" font-family='"Liberation Sans", "Noto Sans CJK SC", sans-serif' font-size="17.8" fill="#000" textLength="51.8" lengthAdjust="spacingAndGlyphs">日期章</text>
<text x="513.8" y="509" font-family='"Liberation Sans", "Noto Sans CJK SC", sans-serif' font-size="13.2" fill="#000" textLength="63.5" lengthAdjust="spacingAndGlyphs" stroke="#000" stroke-width="0.3">(生产年月)</text>
<line x1="515.6" y1="493.4" x2="580.5" y2="493.4" stroke="#000" stroke-width="1.12"/>
<line x1="580.5" y1="493.4" x2="648" y2="527.6" stroke="#000" stroke-width="1.12"/>
<polygon points="659.6,533.6 640.53,528.11 643.86,521.51" fill="#000"/>
<polygon points="671.5,434.3 664.83,441.05 664.83,427.55" fill="#000"/>
<circle cx="658" cy="434.3" r="9.6" fill="#fff" stroke="#000" stroke-width="1.08"/>
<text transform="translate(658 440.77) scale(0.8 1)" font-family='"Liberation Serif", serif' font-size="19.6" text-anchor="middle" fill="#000" stroke="#fff" stroke-width="0.1">1</text>
<text x="674.2" y="441.2" font-family='"Liberation Sans", sans-serif' font-size="20" fill="#000" textLength="50.8" lengthAdjust="spacingAndGlyphs" stroke="#fff" stroke-width="0.2">21±0.2</text>
<line x1="631.6" y1="447.6" x2="770.4" y2="447.6" stroke="#000" stroke-width="1.12"/>
<polygon points="631.6,447.6 644.1,445.25 644.1,449.95" fill="#000"/>
<polygon points="770.4,447.6 757.9,449.95 757.9,445.25" fill="#000"/>
<line x1="631.6" y1="443" x2="631.6" y2="481" stroke="#000" stroke-width="1.12"/>
<line x1="770.4" y1="443" x2="770.4" y2="481" stroke="#000" stroke-width="1.12"/>
<line x1="770" y1="481" x2="821.7" y2="481" stroke="#000" stroke-width="1.12"/>
<line x1="739" y1="602.4" x2="821.7" y2="602.4" stroke="#000" stroke-width="1.12"/>
<line x1="817.4" y1="481" x2="817.4" y2="602.4" stroke="#000" stroke-width="1.12"/>
<polygon points="817.4,481 819.75,493.5 815.05,493.5" fill="#000"/>
<polygon points="817.4,602.4 815.05,589.9 819.75,589.9" fill="#000"/>
<text transform="translate(811 575) rotate(-90)" font-family='"Liberation Sans", sans-serif' font-size="20" fill="#000" textLength="64.6" lengthAdjust="spacingAndGlyphs" stroke="#fff" stroke-width="0.2">18.4±0.2</text>
<polygon points="802.1,577.1 808.85,583.77 795.35,583.77" fill="#000"/>
<circle cx="802.1" cy="590.6" r="9.6" fill="#fff" stroke="#000" stroke-width="1.08"/>
<text transform="translate(802.1 597.07) scale(0.8 1)" font-family='"Liberation Serif", serif' font-size="19.6" text-anchor="middle" fill="#000" stroke="#fff" stroke-width="0.1">2</text>
<path d="M632.5 570 L632.5 481.5 L769.4 481.5 L769.4 570" fill="none" stroke="#000" stroke-width="2.3" stroke-linejoin="miter"/>
<path d="M631.7 569 L631.7 593.6 L663.3 601.6 L739.2 601.6 L770.2 593.6 L770.2 569" fill="none" stroke="#000" stroke-width="1.1"/>
<line x1="663.5" y1="601.2" x2="739" y2="601.2" stroke="#000" stroke-width="1.6"/>
<path d="M633.6 505.6 A7.3 7.3 0 0 1 633.6 520.2" fill="none" stroke="#000" stroke-width="1.2"/>
<path d="M633.6 507.2 A5.7 5.7 0 0 1 633.6 518.6" fill="none" stroke="#000" stroke-width="1.1"/>
<path d="M768.4 505.6 A7.3 7.3 0 0 0 768.4 520.2" fill="none" stroke="#000" stroke-width="1.2"/>
<path d="M768.4 507.2 A5.7 5.7 0 0 0 768.4 518.6" fill="none" stroke="#000" stroke-width="1.1"/>
<path d="M633.5 569.2 L636.6 569.2 Q640 569.6 640 573.4 L640 595" fill="none" stroke="#000" stroke-width="1.1"/>
<path d="M634 571 Q638 571 638 575 L638 594.6" fill="none" stroke="#000" stroke-width="1.12"/>
<path d="M768.5 569.2 L765.4 569.2 Q762 569.6 762 573.4 L762 595" fill="none" stroke="#000" stroke-width="1.1"/>
<path d="M768 571 Q764 571 764 575 L764 594.6" fill="none" stroke="#000" stroke-width="1.12"/>
<line x1="634" y1="591.6" x2="664.5" y2="599.4" stroke="#000" stroke-width="1.12"/>
<line x1="768" y1="591.6" x2="737.5" y2="599.4" stroke="#000" stroke-width="1.12"/>
<rect x="665.4" y="486.2" width="15.4" height="11.1" fill="none" stroke="#000" stroke-width="1.2"/>
<rect x="667.8" y="487.6" width="10.8" height="5.9" fill="none" stroke="#000" stroke-width="1"/>
<line x1="666.9" y1="494.9" x2="679.3" y2="494.9" stroke="#444" stroke-width="1.12"/>
<rect x="721.2" y="486.2" width="16.4" height="11.1" fill="none" stroke="#000" stroke-width="1.2"/>
<rect x="723.6" y="487.6" width="11.8" height="5.9" fill="none" stroke="#000" stroke-width="1"/>
<line x1="722.7" y1="494.9" x2="736.1" y2="494.9" stroke="#444" stroke-width="1.12"/>
<rect x="636.6" y="535.2" width="12.4" height="23.5" fill="none" stroke="#000" stroke-width="1.2"/>
<rect x="638.8" y="538.8" width="5.8" height="16.5" fill="none" stroke="#000" stroke-width="1"/>
<line x1="646.4" y1="538.2" x2="646.4" y2="555.7" stroke="#333" stroke-width="1.12"/>
<line x1="637.6" y1="537.2" x2="648" y2="537.2" stroke="#555" stroke-width="1.12"/>
<line x1="637.6" y1="556.7" x2="648" y2="556.7" stroke="#555" stroke-width="1.12"/>
<rect x="753.6" y="535.2" width="13" height="23.5" fill="none" stroke="#000" stroke-width="1.2"/>
<rect x="758" y="538.8" width="6.4" height="16.5" fill="none" stroke="#000" stroke-width="1"/>
<line x1="756.2" y1="538.2" x2="756.2" y2="555.7" stroke="#333" stroke-width="1.12"/>
<line x1="754.6" y1="537.2" x2="765.6" y2="537.2" stroke="#555" stroke-width="1.12"/>
<line x1="754.6" y1="556.7" x2="765.6" y2="556.7" stroke="#555" stroke-width="1.12"/>
<rect x="660.3" y="533.4" width="26.5" height="26.9" fill="none" stroke="#000" stroke-width="1.15"/>
<rect x="715.5" y="546.6" width="27.1" height="13.7" fill="none" stroke="#000" stroke-width="1.15"/>
<rect x="686.3" y="568.4" width="30.3" height="14" fill="none" stroke="#000" stroke-width="1.4"/>
<rect x="687.4" y="569.2" width="28.2" height="3.4" fill="#222" stroke="none" stroke-width="0"/>
<rect x="695.4" y="569.6" width="2.8" height="2.7" fill="#fff" stroke="none" stroke-width="0"/>
<rect x="699.6" y="569.6" width="4.4" height="2.7" fill="#fff" stroke="none" stroke-width="0"/>
<rect x="705.4" y="569.6" width="2.6" height="2.7" fill="#fff" stroke="none" stroke-width="0"/>
<rect x="688.8" y="569.8" width="4.8" height="1.8" fill="#ddd" stroke="none" stroke-width="0"/>
<rect x="709.6" y="569.8" width="4.8" height="1.8" fill="#ddd" stroke="none" stroke-width="0"/>
<path d="M689 574.2 L714 574.2 L713 579 L690 579 Z" fill="none" stroke="#000" stroke-width="1.2"/>
<line x1="688.4" y1="580.6" x2="714.6" y2="580.6" stroke="#000" stroke-width="1.6"/>
<rect x="673.4" y="587.8" width="22.6" height="10.4" fill="none" stroke="#000" stroke-width="1.2"/>
<rect x="675.8" y="589.2" width="18" height="5.2" fill="none" stroke="#000" stroke-width="1"/>
<line x1="674.9" y1="595.8" x2="694.5" y2="595.8" stroke="#444" stroke-width="1.12"/>
<rect x="706.4" y="587.8" width="22.6" height="10.4" fill="none" stroke="#000" stroke-width="1.2"/>
<rect x="708.8" y="589.2" width="18" height="5.2" fill="none" stroke="#000" stroke-width="1"/>
<line x1="707.9" y1="595.8" x2="727.5" y2="595.8" stroke="#444" stroke-width="1.12"/>
<path d="M684.6 492 L684.6 519 Q684.6 526.2 692 526.2 L710.6 526.2 Q718 526.2 718 519 L718 492 Q718 489.6 715.6 489.6 L687 489.6 Q684.6 489.6 684.6 492 Z" fill="none" stroke="#000" stroke-width="1.2"/>
<rect x="687.6" y="487.4" width="27.4" height="3.6" fill="none" stroke="#000" stroke-width="1"/>
<line x1="688.5" y1="489.2" x2="714.2" y2="489.2" stroke="#000" stroke-width="1.4"/>
<line x1="686.6" y1="492" x2="686.6" y2="520" stroke="#333" stroke-width="1.12"/>
<line x1="716" y1="492" x2="716" y2="520" stroke="#333" stroke-width="1.12"/>
<circle cx="701.3" cy="504" r="15" fill="none" stroke="#000" stroke-width="1.1"/>
<circle cx="701.3" cy="504" r="11.8" fill="none" stroke="#000" stroke-width="3.4"/>
<circle cx="701.3" cy="504" r="8" fill="none" stroke="#000" stroke-width="1.2"/>
<rect x="699" y="490" width="4.6" height="7.4" fill="#fff" stroke="none" stroke-width="0"/>
<rect x="699" y="510.6" width="4.6" height="7.4" fill="#fff" stroke="none" stroke-width="0"/>
<rect x="687.3" y="501.4" width="7.4" height="5.2" fill="#fff" stroke="none" stroke-width="0"/>
<line x1="699" y1="490.6" x2="699" y2="497.2" stroke="#000" stroke-width="0.9"/>
<line x1="703.6" y1="490.6" x2="703.6" y2="497.2" stroke="#000" stroke-width="0.9"/>
<line x1="699" y1="510.8" x2="699" y2="517.4" stroke="#000" stroke-width="0.9"/>
<line x1="703.6" y1="510.8" x2="703.6" y2="517.4" stroke="#000" stroke-width="0.9"/>
<line x1="687.9" y1="501.4" x2="694.5" y2="501.4" stroke="#000" stroke-width="0.9"/>
<line x1="687.9" y1="506.6" x2="694.5" y2="506.6" stroke="#000" stroke-width="0.9"/>
<rect x="707.5" y="499.4" width="5.4" height="9.2" fill="#222" stroke="none" stroke-width="0"/>
<circle cx="701.3" cy="504" r="5.6" fill="#fff" stroke="#000" stroke-width="1.8"/>
<line x1="695.9" y1="504.4" x2="706.7" y2="504.4" stroke="#000" stroke-width="1.12"/>
<line x1="689.4" y1="516" x2="689.4" y2="525.8" stroke="#000" stroke-width="1.12"/>
<line x1="692.2" y1="516" x2="692.2" y2="525.8" stroke="#000" stroke-width="1.12"/>
<line x1="698.4" y1="518.5" x2="698.4" y2="525.8" stroke="#000" stroke-width="1.12"/>
<line x1="700.4" y1="518.5" x2="700.4" y2="525.8" stroke="#000" stroke-width="1.12"/>
<line x1="702.4" y1="518.5" x2="702.4" y2="525.8" stroke="#000" stroke-width="1.12"/>
<line x1="704.4" y1="518.5" x2="704.4" y2="525.8" stroke="#000" stroke-width="1.12"/>
<line x1="710.6" y1="516" x2="710.6" y2="525.8" stroke="#000" stroke-width="1.12"/>
<line x1="713.4" y1="516" x2="713.4" y2="525.8" stroke="#000" stroke-width="1.12"/>
</svg>
</body>
</html>
